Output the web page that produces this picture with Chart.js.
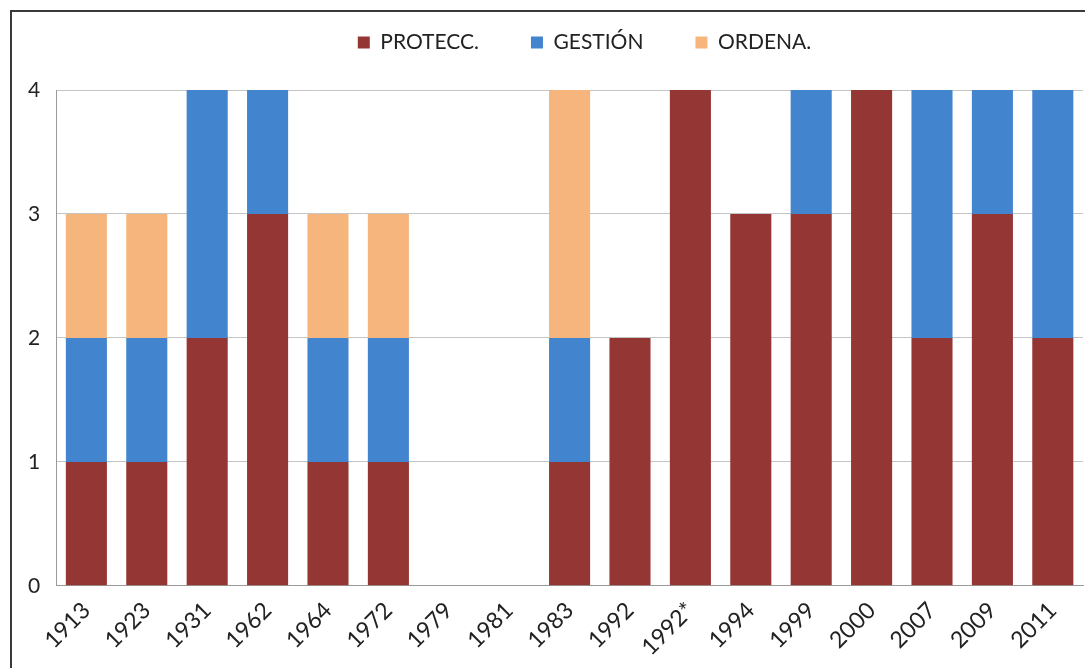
<!DOCTYPE html>
<html>
<head>
<meta charset="utf-8">
<script src="https://cdn.jsdelivr.net/npm/chart.js@4"></script>
<style>
  html, body { margin: 0; padding: 0; background: #fff; }
  #wrap {
    position: absolute; left: 10px; top: 10px;
    width: 1075px; height: 658px;
    border-top: 2px solid #3a3a3a; border-left: 2px solid #3a3a3a;
    box-sizing: border-box;
  }
</style>
</head>
<body>
<div id="wrap"><canvas id="chart"></canvas></div>
<script>
// años de cada norma
const years = ['1913', '1923', '1931', '1962', '1964', '1972', '1979', '1981', '1983',
  '1992', '1992*', '1994', '1999', '2000', '2007', '2009', '2011'];
const protecc = [1, 1, 2, 3, 1, 1, 0, 0, 1, 2, 4, 3, 3, 4, 2, 3, 2];
const gestion = [1, 1, 2, 1, 1, 1, 0, 0, 1, 0, 0, 0, 1, 0, 2, 1, 2];
const ordena  = [1, 1, 0, 0, 1, 1, 0, 0, 2, 0, 0, 0, 0, 0, 0, 0, 0];
const yTicks = [0, 1, 2, 3, 4];

// leyenda: altura fija y centrada sobre el area del grafico
const legendTweak = {
  id: 'legendTweak',
  beforeInit(chart) {
    const fit = chart.legend.fit;
    chart.legend.fit = function () {
      fit.call(this);
      this.height = 110;
    };
  },
  afterLayout(chart) {
    chart.legend.left += 74;
  }
};

const ctx = document.getElementById('chart').getContext('2d');
new Chart(ctx, {
  type: 'bar',
  data: {
    labels: years,
    datasets: [
      { label: 'PROTECC.', data: protecc, backgroundColor: '#943634' },
      { label: 'GESTIÓN', data: gestion, backgroundColor: '#4384cf' },
      { label: 'ORDENA.', data: ordena, backgroundColor: '#f6b57c' }
    ]
  },
  options: {
    responsive: true,
    maintainAspectRatio: false,
    animation: false,
    barPercentage: 0.68,
    categoryPercentage: 1,
    layout: { padding: { left: 0, right: 2, top: -32, bottom: 4 } },
    plugins: {
      legend: {
        position: 'top',
        labels: {
          boxWidth: 12, boxHeight: 12, padding: 52,
          color: '#222',
          font: { family: 'Lato', size: 21 }
        }
      },
      tooltip: { enabled: false }
    },
    scales: {
      x: {
        stacked: true,
        grid: { display: false },
        border: { color: '#9a9a9a' },
        ticks: {
          maxRotation: 45, minRotation: 45, autoSkip: false,
          color: '#222', font: { family: 'Lato', size: 23 }
        }
      },
      y: {
        stacked: true,
        min: 0, max: 4,
        afterBuildTicks: axis => { axis.ticks = yTicks.map(v => ({ value: v })); },
        grid: { color: '#c4c4c4', drawTicks: false },
        border: { color: '#9a9a9a' },
        ticks: {
          padding: 16,
          color: '#222', font: { family: 'Lato', size: 21 }
        }
      }
    }
  },
  plugins: [legendTweak]
});
</script>
</body>
</html>
